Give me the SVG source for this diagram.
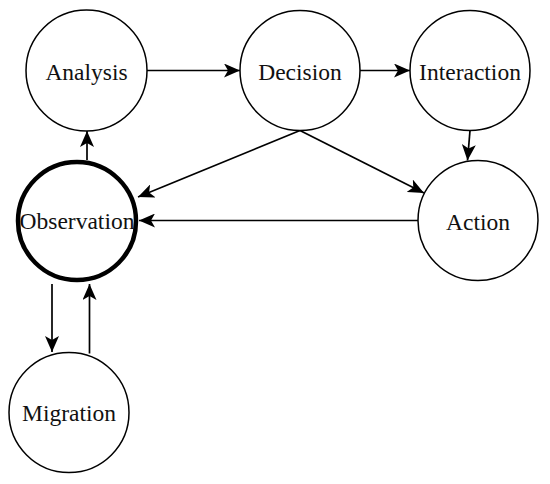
<svg xmlns="http://www.w3.org/2000/svg" width="550" height="484" viewBox="0 0 550 484">
<defs>
<style>
.node circle{fill:#fff;stroke:#000;stroke-width:1.5}
.node.bold circle{stroke-width:4.5}
.node text{font-family:"Liberation Serif","Times New Roman",serif;font-size:23.5px;text-anchor:middle;fill:#111}
.edge{stroke:#000;stroke-width:1.7;fill:none;marker-end:url(#arr)}
</style>
<marker id="arr" markerUnits="userSpaceOnUse" markerWidth="16" markerHeight="14" viewBox="0 0 16 14" refX="16" refY="7" orient="auto">
<path d="M0,0 L16,7 L0,14 L4,7 z" fill="#000"/>
</marker>
</defs>
<rect width="550" height="484" fill="#fff"/>
<g id="connectors">
<line class="edge" x1="147" y1="70.5" x2="240" y2="70.5"/>
<line class="edge" x1="360" y1="70.5" x2="410" y2="70.5"/>
<line class="edge" x1="470" y1="130.5" x2="467.5" y2="160.5"/>
<line class="edge" x1="300" y1="130.5" x2="424" y2="193"/>
<line class="edge" x1="300" y1="130.5" x2="138" y2="197"/>
<line class="edge" x1="418" y1="220.5" x2="139" y2="220.5"/>
<line class="edge" x1="87" y1="160" x2="87" y2="131"/>
<line class="edge" x1="52" y1="284" x2="52" y2="352"/>
<line class="edge" x1="89.5" y1="353.5" x2="89.5" y2="284"/>
</g>
<g id="analysis" class="node"><circle cx="86.5" cy="70.5" r="60.5"/><text x="86.5" y="79.5">Analysis</text></g>
<g id="decision" class="node"><circle cx="300" cy="70.5" r="60"/><text x="300" y="79.5">Decision</text></g>
<g id="interaction" class="node"><circle cx="470" cy="70.5" r="60"/><text x="470" y="79.5">Interaction</text></g>
<g id="observation" class="node bold"><circle cx="77" cy="221" r="59"/><text x="77" y="229">Observation</text></g>
<g id="action" class="node"><circle cx="478" cy="220.5" r="60"/><text x="478" y="229.5">Action</text></g>
<g id="migration" class="node"><circle cx="69" cy="412.5" r="60"/><text x="69" y="421">Migration</text></g>
</svg>
